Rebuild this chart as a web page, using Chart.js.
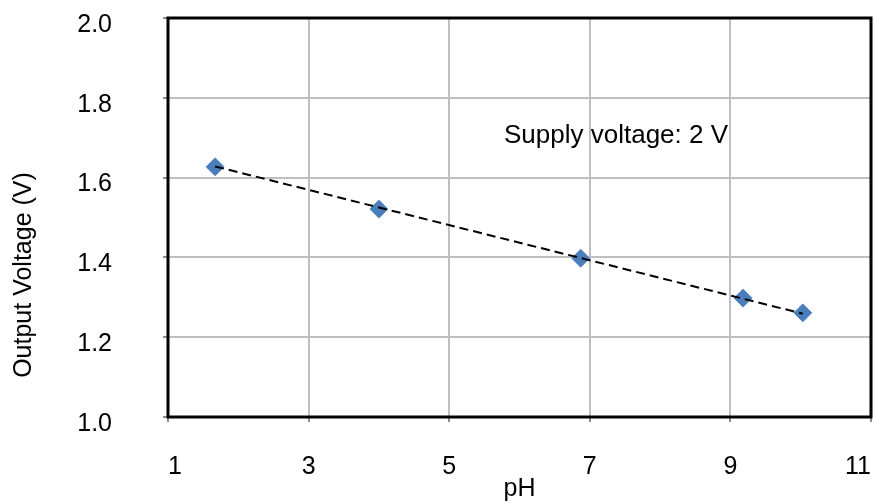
<!DOCTYPE html>
<html>
<head>
<meta charset="utf-8">
<script src="https://cdn.jsdelivr.net/npm/chart.js@4/dist/chart.umd.min.js"></script>
<style>
html, body { margin: 0; padding: 0; background: #fff; }
</style>
</head>
<body>
<canvas id="myChart" width="875" height="504"></canvas>
<script>
// data
const phValues = [1.67, 4.00, 6.87, 9.18, 10.03];
const voltageValues = [1.627, 1.521, 1.398, 1.298, 1.261];
// dashed linear trend line, end points
const trendPh = [1.67, 10.03];
const trendVoltage = [1.628, 1.259];
const xTicks = [1, 3, 5, 7, 9, 11];
const yTicks = [1.0, 1.2, 1.4, 1.6, 1.8, 2.0];
const noteText = 'Supply voltage: 2 V';
const xTitle = 'pH';
const yTitle = 'Output Voltage (V)';

const fontFamily = '"Liberation Sans", Arial, sans-serif';
Chart.defaults.font.family = fontFamily;
Chart.defaults.color = '#000';

// box round the plot, rotated y title and the note
const extras = {
    id: 'extras',
    afterDraw(chart) {
        const ctx = chart.ctx;
        const a = chart.chartArea;
        ctx.save();
        ctx.strokeStyle = '#000';
        ctx.lineWidth = 3;
        ctx.strokeRect(a.left, a.top, a.right - a.left, a.bottom - a.top);

        ctx.fillStyle = '#000';
        ctx.font = '26px ' + fontFamily;
        ctx.textAlign = 'left';
        ctx.textBaseline = 'alphabetic';
        ctx.fillText(noteText, 504, 143);

        ctx.translate(24, 275);
        ctx.rotate(-Math.PI / 2);
        ctx.textAlign = 'center';
        ctx.textBaseline = 'middle';
        ctx.font = '25px ' + fontFamily;
        ctx.fillText(yTitle, 0, 0);
        ctx.restore();
    }
};

function createChart() {
    const ctx = document.getElementById('myChart').getContext('2d');
    new Chart(ctx, {
        type: 'scatter',
        data: {
            datasets: [{
                label: 'Trend',
                data: trendPh.map((x, i) => ({ x: x, y: trendVoltage[i] })),
                showLine: true,
                borderColor: '#000',
                borderWidth: 2,
                borderDash: [9, 5],
                pointRadius: 0
            }, {
                label: 'Output',
                data: phValues.map((x, i) => ({ x: x, y: voltageValues[i] })),
                pointStyle: 'rectRot',
                pointRadius: 9,
                backgroundColor: '#4a7ebb',
                borderColor: '#5a8ac4',
                borderWidth: 1
            }]
        },
        options: {
            responsive: false,
            animation: false,
            devicePixelRatio: 1,
            layout: { autoPadding: false, padding: { top: 18, right: 4, left: 0, bottom: 0 } },
            plugins: {
                legend: { display: false },
                tooltip: { enabled: false }
            },
            scales: {
                x: {
                    type: 'linear',
                    min: 1,
                    max: 11,
                    afterBuildTicks: axis => { axis.ticks = xTicks.map(v => ({ value: v })); },
                    afterFit: scale => {
                        scale.height = 87;
                        scale.paddingLeft = 0;
                        scale.paddingRight = 0;
                    },
                    grid: { color: '#bfbfbf', lineWidth: 2, tickLength: 5, tickColor: '#8c8c8c' },
                    border: { display: false },
                    ticks: {
                        align: 'inner',
                        padding: 30,
                        maxRotation: 0,
                        font: { size: 25 },
                        callback: v => String(v)
                    },
                    title: {
                        display: true,
                        text: xTitle,
                        font: { size: 25 },
                        padding: { top: 0, bottom: 0 }
                    }
                },
                y: {
                    min: 1,
                    max: 2,
                    afterBuildTicks: axis => { axis.ticks = yTicks.map(v => ({ value: v })); },
                    afterFit: scale => {
                        scale.width = 168;
                        scale.paddingTop = 0;
                        scale.paddingBottom = 0;
                    },
                    grid: { color: '#bfbfbf', lineWidth: 2, tickLength: 5, tickColor: '#8c8c8c' },
                    border: { display: false },
                    ticks: {
                        padding: 51,
                        labelOffset: 7,
                        font: { size: 25 },
                        callback: v => Number(v).toFixed(1)
                    }
                }
            }
        },
        plugins: [extras]
    });
}

createChart();
</script>
</body>
</html>
